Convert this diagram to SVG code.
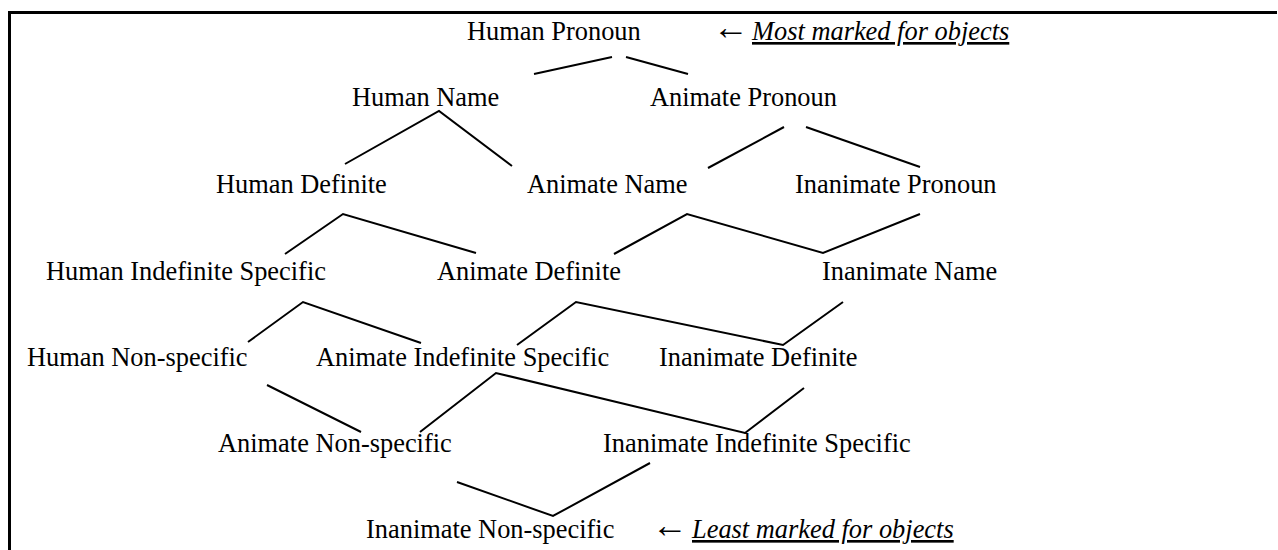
<svg xmlns="http://www.w3.org/2000/svg" width="1278" height="550" viewBox="0 0 1278 550">
<style>
  text { font-family: "Liberation Serif", "Times New Roman", serif; font-size: 26.4px; fill: #000; }
  .note { font-style: italic; text-decoration: underline; }
  .arrow { font-family: "Liberation Serif", "DejaVu Serif", serif; font-size: 36px; }
  .edge { fill: none; stroke: #000; stroke-width: 2; stroke-linejoin: miter; }
</style>
<rect width="1278" height="550" fill="#fff"/>
<path d="M9.5 550 V12.5 H1277" fill="none" stroke="#000" stroke-width="3"/>
<g id="connectors">
  <line class="edge" x1="534" y1="74" x2="612" y2="57"/>
  <line class="edge" x1="626" y1="57" x2="688" y2="74"/>
  <polyline class="edge" points="345,164 439,111 512,166"/>
  <line class="edge" x1="708" y1="168" x2="784" y2="127"/>
  <line class="edge" x1="806" y1="127" x2="920" y2="167"/>
  <polyline class="edge" points="285,254 343,214 476,253"/>
  <polyline class="edge" points="614,254 687,214 823,253 920,214"/>
  <polyline class="edge" points="248,342 303,302 421,343"/>
  <polyline class="edge" points="517,345 576,302 783,345 843,302"/>
  <line class="edge" x1="267" y1="385" x2="361" y2="432"/>
  <polyline class="edge" points="420,432 496,373 745,433 804,388"/>
  <polyline class="edge" points="457,482 553,516 650,463"/>
</g>
<g id="n-human-pronoun"><text x="467" y="40">Human Pronoun</text></g>
<g id="note-most"><text class="arrow" x="713" y="39">←</text><text class="note" x="752" y="40">Most marked for objects</text></g>
<g id="n-human-name"><text x="352" y="106">Human Name</text></g>
<g id="n-animate-pronoun"><text x="650" y="106">Animate Pronoun</text></g>
<g id="n-human-definite"><text x="216" y="193">Human Definite</text></g>
<g id="n-animate-name"><text x="527" y="193">Animate Name</text></g>
<g id="n-inanimate-pronoun"><text x="795" y="193">Inanimate Pronoun</text></g>
<g id="n-human-indef-spec"><text x="46" y="280">Human Indefinite Specific</text></g>
<g id="n-animate-definite"><text x="437" y="280">Animate Definite</text></g>
<g id="n-inanimate-name"><text x="822" y="280">Inanimate Name</text></g>
<g id="n-human-nonspec"><text x="27" y="366">Human Non-specific</text></g>
<g id="n-animate-indef-spec"><text x="316" y="366">Animate Indefinite Specific</text></g>
<g id="n-inanimate-definite"><text x="659" y="366">Inanimate Definite</text></g>
<g id="n-animate-nonspec"><text x="218" y="452">Animate Non-specific</text></g>
<g id="n-inanimate-indef-spec"><text x="603" y="452">Inanimate Indefinite Specific</text></g>
<g id="n-inanimate-nonspec"><text x="366" y="538">Inanimate Non-specific</text></g>
<g id="note-least"><text class="arrow" x="652" y="537">←</text><text class="note" x="692" y="538">Least marked for objects</text></g>
</svg>
